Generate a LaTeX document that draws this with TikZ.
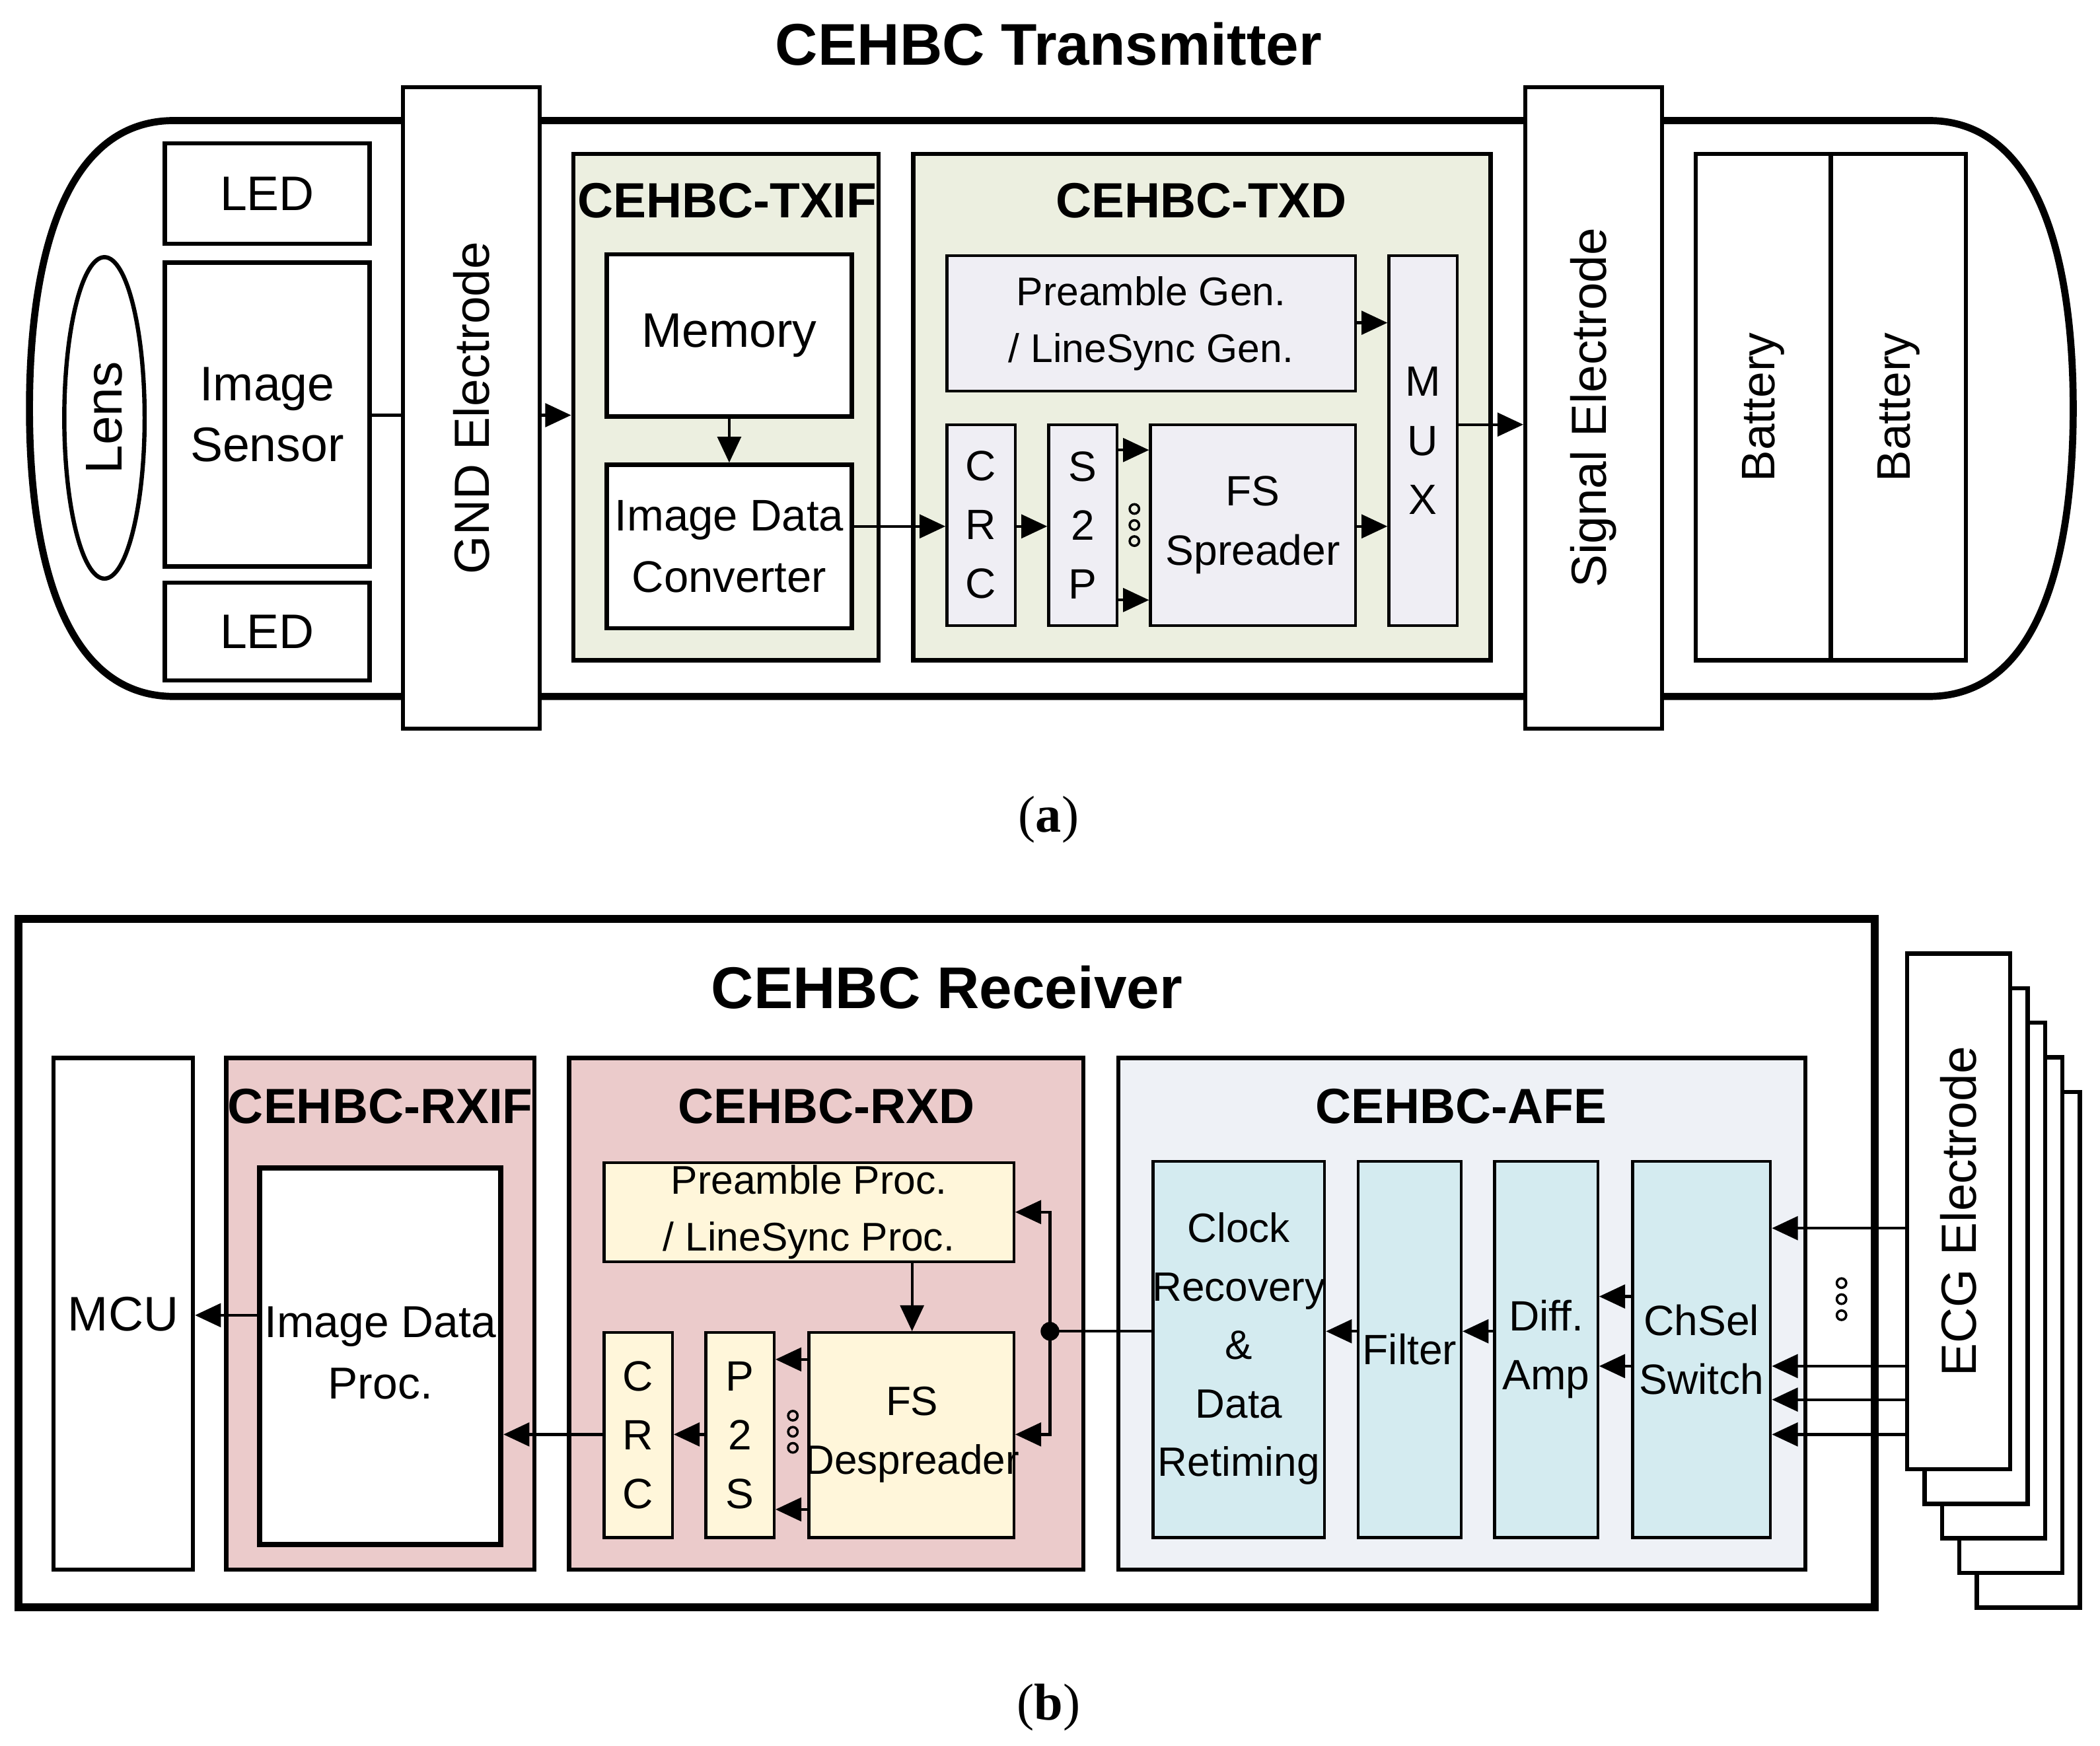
\documentclass[tikz,border=0pt]{standalone}
\usepackage{fontspec}
\setmainfont{Liberation Sans}
\newfontfamily\serifff{Liberation Serif}
\usetikzlibrary{arrows.meta,fit}
\definecolor{txg}{HTML}{ECEFE0}
\definecolor{txl}{HTML}{EFEEF4}
\definecolor{rxr}{HTML}{EBCBCB}
\definecolor{rxy}{HTML}{FFF6DA}
\definecolor{afe}{HTML}{EEF1F6}
\definecolor{afb}{HTML}{D4EBF0}
\tikzset{
 box/.style={draw, line width=0.9pt, inner sep=0pt},
 txt/.style={align=center, inner sep=0pt, font=\fontsize{9}{12.5}\selectfont},
 big/.style={font=\fontsize{10.3}{13}\selectfont},
 grp/.style={draw, line width=0.9pt, inner sep=0pt},
 ttl/.style={font=\fontsize{10.5}{12}\selectfont\bfseries},
 arr/.style={line width=0.6pt, -{Triangle[length=5.5pt,width=5pt]}},
 ln/.style={line width=0.6pt},
 dot/.style={circle, draw, line width=0.5pt, inner sep=0pt, minimum size=2pt},
}
\newcommand{\bx}[7]{\node[#6, fit={(#2,#3)(#4,#5)}] (#1) {}; \node[txt] at (#1) {#7};}
\newcommand{\bxb}[7]{\node[#6, fit={(#2,#3)(#4,#5)}] (#1) {}; \node[txt,big] at (#1) {#7};}
\newcommand{\bxs}[7]{\node[#6, fit={(#2,#3)(#4,#5)}] (#1) {}; \node[txt,font=\fontsize{8.5}{12}\selectfont] at (#1) {#7};}
\newcommand{\threedots}[2]{\node[dot] (d1#1) at (#1,#2) {}; \node[dot] (d2#1) at (#1,#2+12) {}; \node[dot] (d3#1) at (#1,#2+24) {};}
\begin{document}
\begin{tikzpicture}[x=0.01cm,y=-0.01cm]
\useasboundingbox (0,0) rectangle (1568,1303.6);
% ---------- (a) ----------
\node[font=\fontsize{12.5}{14}\selectfont\bfseries] (tt) at (783,33) {CEHBC Transmitter};
\draw[line width=1.5pt] (1440,90) -- (130,90) .. controls (45,90) and (22,200) .. (22,305) .. controls (22,410) and (45,520) .. (130,520) -- (1440,520) .. controls (1525,520) and (1548,410) .. (1548,305) .. controls (1548,200) and (1525,90) .. (1440,90);
\draw[line width=0.9pt] (78,312) ellipse [x radius=30, y radius=120];
\node[rotate=90, font=\fontsize{11}{13}\selectfont] (lens) at (78,312) {Lens};
\bxb{led1}{123}{107}{276}{182}{box}{LED}
\bxb{sens}{123}{196}{276}{423}{box}{Image\\Sensor}
\bxb{led2}{123}{435}{276}{508}{box}{LED}
\bx{gnd}{301}{65}{403}{544}{box,fill=white}{}
\node[rotate=90, font=\fontsize{10.5}{13}\selectfont] at (gnd) {GND Electrode};
\bx{txif}{428}{115}{656}{493}{grp,fill=txg}{}
\node[ttl] at (543,150) {CEHBC-TXIF};
\bxb{mem}{453}{190}{636}{311}{box,fill=white}{Memory}
\bx{idc}{453}{347}{636}{469}{box,fill=white}{}
\node[txt,font=\fontsize{9.4}{13}\selectfont] at (idc) {Image Data\\Converter};
\bx{txd}{682}{115}{1113}{493}{grp,fill=txg}{}
\node[ttl] at (897,150) {CEHBC-TXD};
\bxs{pre}{707}{191}{1012}{292}{box,fill=txl,line width=0.6pt}{Preamble Gen.\\/ LineSync Gen.}
\bx{mux}{1037}{191}{1088}{467}{box,fill=txl,line width=0.6pt}{M\\U\\X}
\bx{crc}{707}{317}{758}{467}{box,fill=txl,line width=0.6pt}{C\\R\\C}
\bx{s2p}{783}{317}{834}{467}{box,fill=txl,line width=0.6pt}{S\\2\\P}
\bx{fss}{859}{317}{1012}{467}{box,fill=txl,line width=0.6pt}{FS\\Spreader}
\threedots{847}{380}
\bx{sig}{1139}{65}{1241}{544}{box,fill=white}{}
\node[rotate=90, font=\fontsize{10.5}{13}\selectfont] at (sig) {Signal Electrode};
\bx{bat1}{1266}{115}{1367}{493}{box}{}
\bx{bat2}{1367}{115}{1468}{493}{box}{}
\node[rotate=90, font=\fontsize{10}{12}\selectfont] at (bat1) {Battery};
\node[rotate=90, font=\fontsize{10}{12}\selectfont] at (bat2) {Battery};
\draw[ln] (sens.east |- 0,310) -- (gnd.west |- 0,310);
\draw[arr] (gnd.east |- 0,310) -- (txif.west |- 0,310);
\draw[arr] (mem) -- (idc);
\draw[arr] (idc.east |- 0,393) -- (crc.west |- 0,393);
\draw[arr] (crc.east |- 0,393) -- (s2p.west |- 0,393);
\draw[arr] (s2p.east |- 0,336) -- (fss.west |- 0,336);
\draw[arr] (s2p.east |- 0,448) -- (fss.west |- 0,448);
\draw[arr] (pre.east |- 0,241) -- (mux.west |- 0,241);
\draw[arr] (fss.east |- 0,393) -- (mux.west |- 0,393);
\draw[arr] (mux.east |- 0,317) -- (sig.west |- 0,317);
\node[font=\serifff\fontsize{11}{13}\selectfont] at (783,612) {(\textbf{a})};
% ---------- (b) ----------
\draw[line width=1.7pt] (14,686) rectangle (1400,1200);
\node[font=\fontsize{12.5}{14}\selectfont\bfseries] (rt) at (707,737) {CEHBC Receiver};
\bxb{mcu}{40}{790}{144}{1172}{box}{MCU}
\bx{rxif}{169}{790}{399}{1172}{grp,fill=rxr}{}
\node[ttl] at (284,826) {CEHBC-RXIF};
\bx{idp}{194}{872}{374}{1153}{box,fill=white,line width=1.1pt}{}
\node[txt,font=\fontsize{9.5}{13}\selectfont] at (284,1010) {Image Data\\Proc.};
\bx{rxd}{425}{790}{809}{1172}{grp,fill=rxr}{}
\node[ttl] at (617,826) {CEHBC-RXD};
\bxs{ppr}{451}{868}{757}{942}{box,fill=rxy,line width=0.6pt}{Preamble Proc.\\/ LineSync Proc.}
\bx{rcrc}{451}{995}{502}{1148}{box,fill=rxy,line width=0.6pt}{C\\R\\C}
\bx{p2s}{527}{995}{578}{1148}{box,fill=rxy,line width=0.6pt}{P\\2\\S}
\bx{fsd}{604}{995}{757}{1148}{box,fill=rxy,line width=0.6pt}{}
\node[txt,font=\fontsize{8.7}{12.5}\selectfont] at (681,1071) {FS\\Despreader};
\threedots{592}{1057}
\bx{afe}{835}{790}{1348}{1172}{grp,fill=afe}{}
\node[ttl] at (1091,826) {CEHBC-AFE};
\bx{clk}{861}{867}{989}{1148}{box,fill=afb,line width=0.6pt}{}
\node[txt,font=\fontsize{8.7}{12.4}\selectfont] at (925,1007) {Clock\\Recovery\\\&\\Data\\Retiming};
\bx{flt}{1014}{867}{1091}{1148}{box,fill=afb,line width=0.6pt}{Filter}
\bx{dif}{1116}{867}{1193}{1148}{box,fill=afb,line width=0.6pt}{Diff.\\Amp}
\bx{chs}{1219}{867}{1322}{1148}{box,fill=afb,line width=0.6pt}{ChSel\\Switch}
\foreach \i in {4,3,2,1} {
  \draw[line width=0.9pt, fill=white] (1424+13*\i,712+25.8*\i) rectangle (1501+13*\i,1097+25.8*\i);
}
\bx{ecg}{1424}{712}{1501}{1097}{box,fill=white}{}
\node[rotate=90, font=\fontsize{10.5}{13}\selectfont] at (ecg) {ECG Electrode};
\threedots{1375}{958}
\foreach \yy in {917,1020,1045,1071} \draw[arr] (ecg.west |- 0,\yy) -- (chs.east |- 0,\yy);
\draw[arr] (chs.west |- 0,968) -- (dif.east |- 0,968);
\draw[arr] (chs.west |- 0,1020) -- (dif.east |- 0,1020);
\draw[arr] (dif.west |- 0,994) -- (flt.east |- 0,994);
\draw[arr] (flt.west |- 0,994) -- (clk.east |- 0,994);
\coordinate (jn) at (784,994);
\draw[ln] (clk.west |- 0,994) -- (jn);
\fill (jn) circle (7);
\draw[arr] (jn) |- (ppr.east |- 0,905);
\draw[arr] (jn) |- (fsd.east |- 0,1071);
\draw[arr] (ppr.south -| 681,0) -- (fsd.north -| 681,0);
\draw[arr] (fsd.west |- 0,1015) -- (p2s.east |- 0,1015);
\draw[arr] (fsd.west |- 0,1127) -- (p2s.east |- 0,1127);
\draw[arr] (p2s.west |- 0,1071) -- (rcrc.east |- 0,1071);
\draw[arr] (rcrc.west |- 0,1071) -- (idp.east |- 0,1071);
\draw[arr] (idp.west |- 0,982) -- (mcu.east |- 0,982);
\node[font=\serifff\fontsize{11}{13}\selectfont] at (783,1275) {(\textbf{b})};
\end{tikzpicture}
\end{document}
